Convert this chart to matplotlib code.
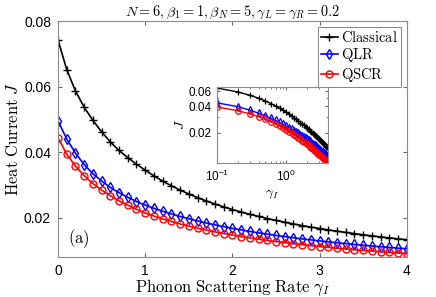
import numpy as np
import matplotlib
matplotlib.use('Agg')
import matplotlib.pyplot as plt
from matplotlib.ticker import NullFormatter, FixedLocator

plt.rcParams['font.family'] = ['Liberation Sans', 'DejaVu Sans']
plt.rcParams['mathtext.fontset'] = 'cm'

# Data (gamma_I from 0 to 4 in steps of 0.1)
gamma_I = np.round(np.arange(0, 4.01, 0.1), 1)

classical = [0.0743, 0.0652, 0.0587, 0.0537, 0.0497, 0.0462, 0.0431, 0.0405, 0.0383, 0.0363,
             0.0345, 0.03273, 0.03115, 0.02972, 0.02841, 0.02721, 0.02611, 0.02509, 0.02415, 0.02328,
             0.02247, 0.02172, 0.02101, 0.02035, 0.01972, 0.01914, 0.01859, 0.01807, 0.01757, 0.01711,
             0.01667, 0.01625, 0.01585, 0.01547, 0.01511, 0.01476, 0.01443, 0.01411, 0.01381, 0.01352,
             0.01325]
qlr = [0.0495, 0.0440, 0.0397, 0.0362, 0.0334, 0.0312, 0.0292, 0.0276, 0.0262, 0.0249,
       0.0238, 0.02284, 0.02195, 0.02112, 0.02036, 0.01965, 0.01898, 0.01836, 0.01778, 0.01724,
       0.01672, 0.01624, 0.01578, 0.01535, 0.01494, 0.01456, 0.01419, 0.01384, 0.01351, 0.01319,
       0.01289, 0.01260, 0.01232, 0.01206, 0.01180, 0.01156, 0.01133, 0.01110, 0.01089, 0.01068,
       0.01048]
qscr = [0.0444, 0.0394, 0.0357, 0.0328, 0.0304, 0.0284, 0.0267, 0.0251, 0.0238, 0.0225,
        0.0214, 0.02047, 0.01961, 0.01881, 0.01808, 0.01741, 0.01678, 0.01619, 0.01565, 0.01514,
        0.01466, 0.01421, 0.01379, 0.01340, 0.01302, 0.01267, 0.01233, 0.01201, 0.01171, 0.01142,
        0.01115, 0.01089, 0.01064, 0.01040, 0.01017, 0.00996, 0.00975, 0.00955, 0.00935, 0.00917,
        0.00899]

series = [
    (r'$\mathrm{Classical}$', classical, 'k', '+', 6),
    (r'$\mathrm{QLR}$', qlr, 'b', 'd', 5),
    (r'$\mathrm{QSCR}$', qscr, 'r', 'o', 5),
]

fig = plt.figure(figsize=(4.36, 2.97), dpi=100)

# Main axes
ax = fig.add_axes([0.133, 0.135, 0.800, 0.794])
for name, vals, c, m, ms in series:
    ax.plot(gamma_I, vals, color=c, marker=m, ms=ms, mfc='none', mew=1.0, lw=1.2, label=name)

ax.set_xlim(0, 4)
ax.set_ylim(0.008, 0.08)
ax.set_xticks([0, 1, 2, 3, 4])
ax.set_yticks([0.02, 0.04, 0.06, 0.08])
ax.tick_params(direction='in', top=True, right=True, labelsize=10, length=3,
               color='0.4', pad=5)
for sp in ax.spines.values():
    sp.set_color('0.55')
    sp.set_linewidth(0.8)
ax.set_xlabel(r'$\mathrm{Phonon\ Scattering\ Rate}\ \gamma_I$', fontsize=12, labelpad=0)
ax.set_ylabel(r'$\mathrm{Heat\ Current}\ J$', fontsize=12, labelpad=2)
ax.set_title(r'$N=6,\beta_1=1,\beta_N=5,\gamma_L=\gamma_R=0.2$', fontsize=10.3, pad=4)
ax.text(0.03, 0.06, r'$\mathrm{(a)}$', transform=ax.transAxes, fontsize=12)

leg = ax.legend(loc='upper right', fontsize=10.5, handlelength=1.2, handletextpad=0.2,
                borderpad=0.2, labelspacing=0.1, borderaxespad=0.4, fancybox=False)
leg.get_frame().set_edgecolor('0.4')
leg.get_frame().set_linewidth(0.7)

# Inset: log-log view
axi = fig.add_axes([0.498, 0.451, 0.254, 0.256])
for name, vals, c, m, ms in series:
    axi.loglog(gamma_I[1:], vals[1:], color=c, marker=m, ms=ms - 1, mfc='none',
               mew=0.9, lw=1.0)
axi.set_xlim(0.1, 4)
axi.set_ylim(0.0089, 0.067)
axi.yaxis.set_major_locator(FixedLocator([0.02, 0.04, 0.06]))
axi.set_yticklabels(['0.02', '0.04', '0.06'])
axi.yaxis.set_minor_formatter(NullFormatter())
axi.xaxis.set_minor_formatter(NullFormatter())
axi.tick_params(which='both', direction='in', top=True, right=True, labelsize=8.5,
                color='0.4', pad=4)
axi.tick_params(which='major', length=2.5)
axi.tick_params(which='minor', length=1.5)
for sp in axi.spines.values():
    sp.set_color('0.55')
    sp.set_linewidth(0.8)
axi.set_xlabel(r'$\gamma_I$', fontsize=10, labelpad=2)
axi.set_ylabel(r'$J$', fontsize=10, labelpad=1)

fig.savefig('out.png', dpi=100)
